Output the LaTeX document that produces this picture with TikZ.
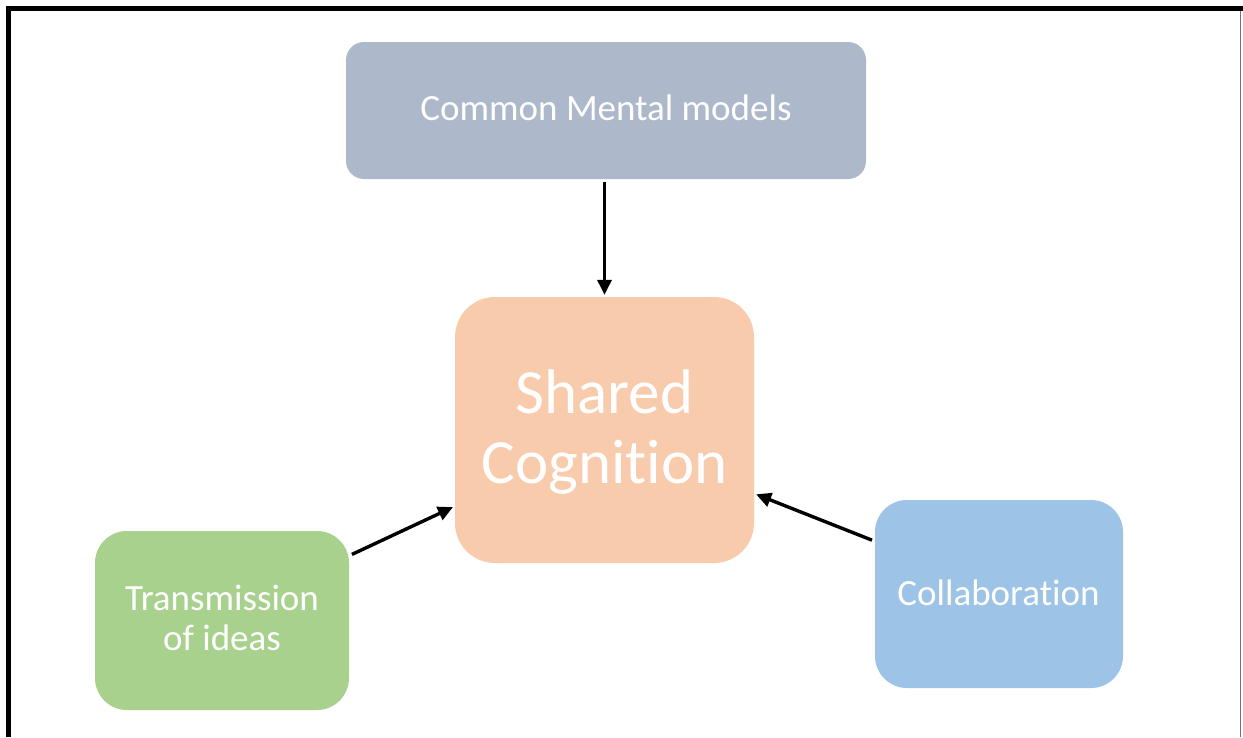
\documentclass[tikz,border=0pt]{standalone}
\usepackage{fontspec}
\setmainfont{Carlito}[Ligatures={NoCommon}]
\usetikzlibrary{arrows.meta}
\definecolor{cmmfill}{HTML}{ADB9CA}
\definecolor{shfill}{HTML}{F8CBAD}
\definecolor{trfill}{HTML}{A9D18E}
\definecolor{cofill}{HTML}{9DC3E6}
\tikzset{
  box/.style={draw=none, inner sep=0pt},
  lbl/.style={text=white, align=center, inner sep=0pt, anchor=base},
  link/.style={line width=3.4pt, -{Triangle[length=15pt,width=14pt]}, shorten >=2pt, shorten <=3pt}
}
\begin{document}
\begin{tikzpicture}[x=1pt,y=-1pt]
\useasboundingbox (0,0) rectangle (1243,737);
\fill[white] (0,0) rectangle (1243,737);
% frame
\fill[black] (6,6) rectangle (1243,11);
\fill[black] (6,6) rectangle (11,737);
\fill[black!55] (1239.5,11) rectangle (1241,737);
% boxes
\fill[cmmfill, rounded corners=18pt] (346,42) rectangle (866,179);
\fill[shfill, rounded corners=40pt] (455,297) rectangle (754,563);
\fill[trfill, rounded corners=32pt] (95,531) rectangle (349,710);
\fill[cofill, rounded corners=32pt] (875,500) rectangle (1123,688);
\node[box, minimum width=520pt, minimum height=137pt] (cmm) at (606,110.5) {};
\node[box, minimum width=299pt, minimum height=266pt] (sh) at (604.5,430) {};
\node[box, minimum width=254pt, minimum height=179pt] (tr) at (222,620.5) {};
\node[box, minimum width=248pt, minimum height=188pt] (co) at (999,594) {};
% labels (base anchor sits on the last line)
\node[lbl, font=\fontsize{37}{44}\selectfont] (cmmt) at (606,120) {Common Mental models};
\node[lbl, font=\fontsize{63}{70}\selectfont] (sht) at (604.5,483) {Shared\\Cognition};
\node[lbl, font=\fontsize{37}{40}\selectfont] (trt) at (222,650) {Transmission\\of ideas};
\node[lbl, font=\fontsize{37}{44}\selectfont] (cot) at (998.5,605) {Collaboration};
% connectors
\draw[link] (cmm.south -| sh.north) -- (sh.north);
\draw[link] (tr.27) -- (sh.207);
\draw[link] (co.157) -- (sh.337.5);
\end{tikzpicture}
\end{document}
